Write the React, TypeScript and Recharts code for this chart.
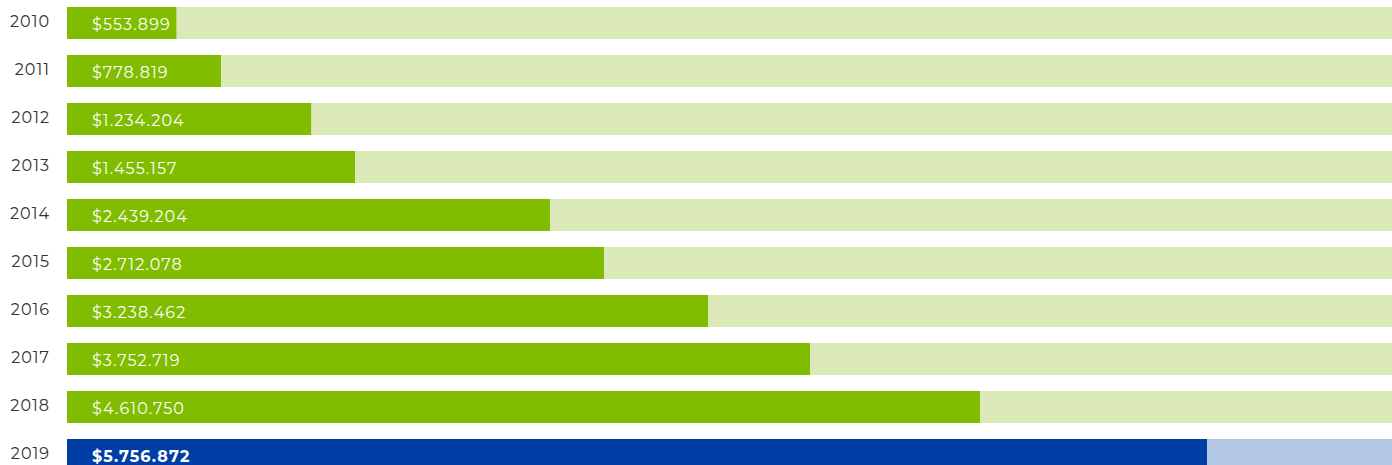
import React from 'react';
import { BarChart, Bar, XAxis, YAxis, Cell, LabelList } from 'recharts';

// Years and amounts
const years = ['2010', '2011', '2012', '2013', '2014', '2015', '2016', '2017', '2018', '2019'];
const amounts = [553899, 778819, 1234204, 1455157, 2439204, 2712078, 3238462, 3752719, 4610750, 5756872];

// Full length of the track behind each bar
const TRACK_MAX = 6690000;

const GREEN = '#80bd00';
const GREEN_LIGHT = '#dae9b7';
const BLUE = '#003da5';
const BLUE_LIGHT = '#b3c6e4';

const fmt = (v: number) => '$' + String(v).replace(/\B(?=(\d{3})+(?!\d))/g, '.');

export default function App() {
  const data = React.useMemo(
    () =>
      years.map((year, i) => ({
        year,
        value: amounts[i],
        rest: TRACK_MAX - amounts[i],
      })),
    []
  );
  const last = years.length - 1;

  const renderLabel = (props: any) => {
    const { x, y, height, index, value } = props;
    return (
      <text
        x={Number(x) + 25}
        y={Number(y) + Number(height) / 2 + 1}
        fill="#ffffff"
        fontSize={16}
        fontWeight={index === last ? 700 : 400}
        dominantBaseline="central"
        letterSpacing={1.1}
      >
        {fmt(value)}
      </text>
    );
  };

  const renderTick = (props: any) => {
    const { y, payload } = props;
    return (
      <text
        x={50}
        y={y - 2}
        textAnchor="end"
        dominantBaseline="central"
        fill="#333"
        fontSize={16}
        letterSpacing={1}
      >
        {payload.value}
      </text>
    );
  };

  return (
    <div
      style={{
        position: 'absolute',
        left: 0,
        top: 0,
        width: 1392,
        height: 465,
        overflow: 'hidden',
        fontFamily: 'Montserrat, "Open Sans", sans-serif',
      }}
    >
      <div style={{ marginTop: -1 }}>
        <BarChart
          width={1392}
          height={480}
          data={data}
          layout="vertical"
          margin={{ top: 0, right: 0, bottom: 0, left: 0 }}
          barCategoryGap={8}
        >
          <XAxis type="number" domain={[0, TRACK_MAX]} hide />
          <YAxis
            type="category"
            dataKey="year"
            width={67}
            axisLine={false}
            tickLine={false}
            tick={renderTick}
            interval={0}
          />
          <Bar dataKey="value" stackId="a" isAnimationActive={false}>
            {data.map((d, i) => (
              <Cell key={`v-${d.year}`} fill={i === last ? BLUE : GREEN} />
            ))}
            <LabelList dataKey="value" content={renderLabel} />
          </Bar>
          <Bar dataKey="rest" stackId="a" isAnimationActive={false}>
            {data.map((d, i) => (
              <Cell key={`r-${d.year}`} fill={i === last ? BLUE_LIGHT : GREEN_LIGHT} />
            ))}
          </Bar>
        </BarChart>
      </div>
    </div>
  );
}
